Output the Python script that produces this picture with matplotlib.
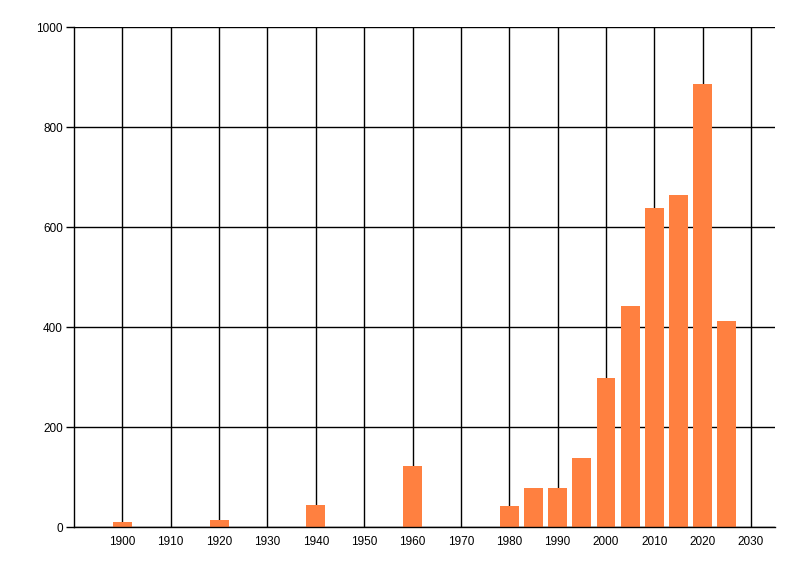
import matplotlib
matplotlib.use("Agg")
import matplotlib.pyplot as plt

# data
years = [1900, 1920, 1940, 1960, 1980, 1985, 1990, 1995, 2000, 2005, 2010, 2015, 2020, 2025]
counts = [10, 15, 45, 123, 43, 79, 79, 139, 299, 443, 639, 665, 887, 413]

x_ticks = list(range(1900, 2031, 10))
y_ticks = [0, 200, 400, 600, 800, 1000]

BAR_COLOR = "#FF8040"

plt.rcParams["font.family"] = ["Liberation Sans", "DejaVu Sans"]

fig = plt.figure(figsize=(8, 5.76), dpi=100)
ax = fig.add_axes([0.0925, 0.0845, 0.969 - 0.0925, 0.9526 - 0.0845])

ax.bar(years, counts, width=3.9, color=BAR_COLOR, zorder=3)

ax.set_xlim(1890, 2035)
ax.set_ylim(0, 1000)
ax.set_xticks(x_ticks)
ax.set_yticks(y_ticks)
ax.set_xticklabels([str(t) for t in x_ticks], fontsize=8.5)
ax.set_yticklabels([str(t) for t in y_ticks], fontsize=8.5)

ax.grid(True, color="black", linewidth=1.0, zorder=0)
ax.tick_params(axis="x", length=0, pad=6)
ax.tick_params(axis="y", length=6, width=1.0, pad=2)

for side in ["top", "right"]:
    ax.spines[side].set_visible(False)
for side in ["left", "bottom"]:
    ax.spines[side].set_linewidth(1.0)
    ax.spines[side].set_zorder(4)

fig.savefig("out.png", dpi=100)
